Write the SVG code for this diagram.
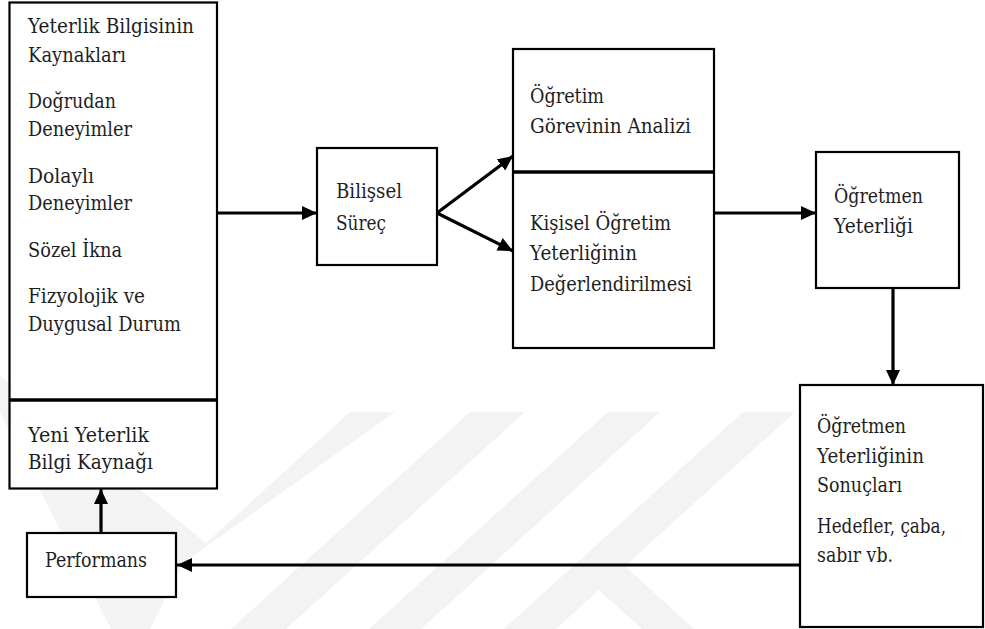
<svg xmlns="http://www.w3.org/2000/svg" width="985" height="629" viewBox="0 0 985 629">
<style>
.bx{fill:#fff;stroke:#000;stroke-width:2.2}
.dv{stroke:#000;stroke-width:3.5}
text{font-size:20px;fill:#1e1e1e;font-family:'DejaVu Serif','Liberation Serif',serif}
.c{stroke:#000;stroke-width:3.2;fill:none;marker-end:url(#ah)}
.wm{fill:#f3f3f3}
</style>
<defs>
<marker id="ah" markerUnits="userSpaceOnUse" markerWidth="16" markerHeight="14" refX="15" refY="7" orient="auto">
<path d="M0,0 L15,7 L0,14 z" fill="#000"/>
</marker>
</defs>
<rect width="985" height="629" fill="#fff"/>
<g id="watermark">
<polygon class="wm" points="350,412 395,412 183,563 150,629 111,629 0,412 0,376 206,543"/>
<polygon class="wm" points="470,412 525,412 286,629 231,629"/>
<polygon class="wm" points="608,412 660,412 421,629 369,629"/>
<polygon class="wm" points="743,412 795,412 625,566 694,629 642,629 599,590 556,629 504,629"/>
</g>
<g id="connectors">
<line class="c" x1="217" y1="213" x2="317" y2="213"/>
<line class="c" x1="437" y1="213" x2="513" y2="156"/>
<line class="c" x1="437" y1="213" x2="513" y2="251"/>
<line class="c" x1="714" y1="213" x2="816" y2="213"/>
<line class="c" x1="893" y1="288" x2="893" y2="385"/>
<line class="c" x1="800" y1="565" x2="177" y2="565"/>
<line class="c" x1="101" y1="533" x2="101" y2="489"/>
</g>
<g id="sources">
<rect class="bx" x="9.5" y="2.5" width="207.5" height="486"/>
<line class="dv" x1="9.5" y1="400" x2="217" y2="400"/>
<text x="28" y="33" textLength="166" lengthAdjust="spacingAndGlyphs">Yeterlik Bilgisinin</text>
<text x="28" y="62" textLength="98" lengthAdjust="spacingAndGlyphs">Kaynakları</text>
<text x="28" y="108" textLength="88" lengthAdjust="spacingAndGlyphs">Doğrudan</text>
<text x="28" y="136" textLength="104" lengthAdjust="spacingAndGlyphs">Deneyimler</text>
<text x="28" y="183" textLength="66" lengthAdjust="spacingAndGlyphs">Dolaylı</text>
<text x="28" y="210" textLength="104" lengthAdjust="spacingAndGlyphs">Deneyimler</text>
<text x="28" y="257" textLength="94" lengthAdjust="spacingAndGlyphs">Sözel İkna</text>
<text x="28" y="303" textLength="117" lengthAdjust="spacingAndGlyphs">Fizyolojik ve</text>
<text x="28" y="331" textLength="153" lengthAdjust="spacingAndGlyphs">Duygusal Durum</text>
<text x="28" y="442" textLength="121" lengthAdjust="spacingAndGlyphs">Yeni Yeterlik</text>
<text x="28" y="469" textLength="125" lengthAdjust="spacingAndGlyphs">Bilgi Kaynağı</text>
</g>
<g id="performans">
<rect class="bx" x="27" y="533" width="149" height="64"/>
<text x="45" y="567" textLength="102" lengthAdjust="spacingAndGlyphs">Performans</text>
</g>
<g id="bilissel">
<rect class="bx" x="317" y="148" width="120" height="117"/>
<text x="336" y="198" textLength="66" lengthAdjust="spacingAndGlyphs">Bilişsel</text>
<text x="336" y="230" textLength="50" lengthAdjust="spacingAndGlyphs">Süreç</text>
</g>
<g id="analiz">
<rect class="bx" x="513" y="49" width="201" height="299"/>
<line class="dv" x1="513" y1="172" x2="714" y2="172"/>
<text x="530" y="103" textLength="74" lengthAdjust="spacingAndGlyphs">Öğretim</text>
<text x="530" y="133" textLength="161" lengthAdjust="spacingAndGlyphs">Görevinin Analizi</text>
<text x="530" y="230" textLength="141" lengthAdjust="spacingAndGlyphs">Kişisel Öğretim</text>
<text x="530" y="260" textLength="107" lengthAdjust="spacingAndGlyphs">Yeterliğinin</text>
<text x="530" y="291" textLength="162" lengthAdjust="spacingAndGlyphs">Değerlendirilmesi</text>
</g>
<g id="ogretmen-yeterligi">
<rect class="bx" x="816" y="152" width="143" height="136"/>
<text x="834" y="203" textLength="89" lengthAdjust="spacingAndGlyphs">Öğretmen</text>
<text x="834" y="233" textLength="79" lengthAdjust="spacingAndGlyphs">Yeterliği</text>
</g>
<g id="sonuclar">
<rect class="bx" x="800" y="385" width="183" height="242"/>
<text x="817" y="433" textLength="89" lengthAdjust="spacingAndGlyphs">Öğretmen</text>
<text x="817" y="463" textLength="107" lengthAdjust="spacingAndGlyphs">Yeterliğinin</text>
<text x="817" y="492" textLength="85" lengthAdjust="spacingAndGlyphs">Sonuçları</text>
<text x="817" y="533" textLength="129" lengthAdjust="spacingAndGlyphs">Hedefler, çaba,</text>
<text x="817" y="562" textLength="76" lengthAdjust="spacingAndGlyphs">sabır vb.</text>
</g>
</svg>
